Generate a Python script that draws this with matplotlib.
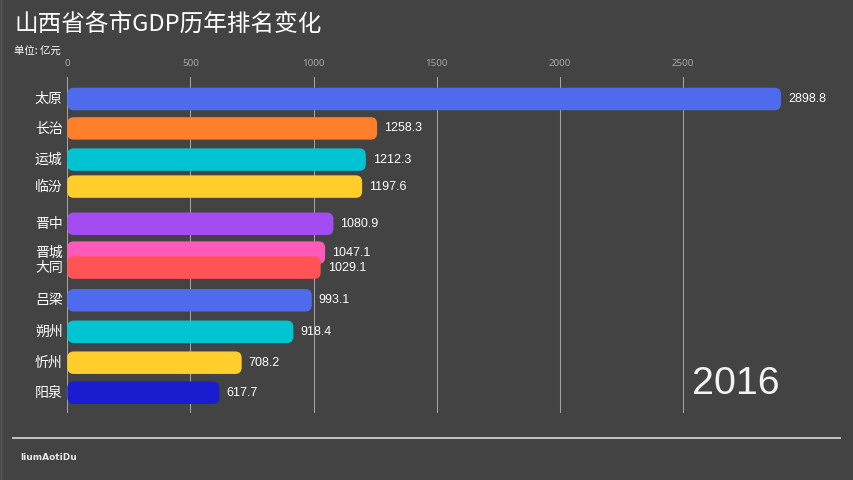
import matplotlib
matplotlib.use("Agg")
import matplotlib.pyplot as plt
from matplotlib.patches import FancyBboxPatch

# ---- data ----
cities = ["太原", "长治", "运城", "临汾", "晋中", "晋城", "大同", "吕梁", "朔州", "忻州", "阳泉"]
values = [2898.8, 1258.3, 1212.3, 1197.6, 1080.9, 1047.1, 1029.1, 993.1, 918.4, 708.2, 617.7]
# animated (fractional) rank positions
rank_pos = [0.0, 0.98, 2.02, 2.92, 4.16, 5.12, 5.62, 6.71, 7.76, 8.79, 9.79]
colors = ["#4f6bed", "#ff7f2a", "#00c4d1", "#ffcd2c", "#a24cf2", "#ff5ab9",
          "#ff5355", "#4f6bed", "#00c4d1", "#ffcd2c", "#1a1ccf"]
xticks = [0, 500, 1000, 1500, 2000, 2500]
year = "2016"
title = "山西省各市GDP历年排名变化"
subtitle = "单位: 亿元"
credit = "liumAotiDu"

BG = "#434343"
CJK = ["Noto Sans CJK SC", "DejaVu Sans"]
plt.rcParams["font.family"] = CJK

W, H = 854, 480
fig = plt.figure(figsize=(W / 100, H / 100), dpi=100, facecolor=BG)

ax_left, ax_right = 67.3, 840.0
ax_top, ax_bottom = 76.7, 413.0
ax = fig.add_axes([ax_left / W, 1 - ax_bottom / H, (ax_right - ax_left) / W, (ax_bottom - ax_top) / H])
ax.set_facecolor(BG)

xmax = (ax_right - ax_left) / 0.2462
ymin_r = (ax_top - 99) / 30.0
ymax_r = (ax_bottom - 99) / 30.0
ax.set_xlim(0, xmax)
ax.set_ylim(ymax_r, ymin_r)

for s in ax.spines.values():
    s.set_visible(False)
ax.xaxis.tick_top()
ax.set_xticks(xticks)
ax.set_xticklabels([str(t) for t in xticks], family=["Noto Sans", "DejaVu Sans"], fontsize=7, color="#a8a8a8")
ax.tick_params(axis="x", length=0, pad=6)
ax.set_yticks([])
ax.grid(axis="x", color="#a4a4a4", linewidth=0.75)
ax.set_axisbelow(True)

# pixel scales for rounded corners
sx = (ax_right - ax_left) / xmax          # px per x unit
sy = (ax_bottom - ax_top) / (ymax_r - ymin_r)  # px per y unit
bar_h = 22.5 / sy
r_px = 6.5

for c, v, p, col in zip(cities, values, rank_pos, colors):
    patch = FancyBboxPatch((0, p - bar_h / 2), v, bar_h,
                           boxstyle=f"round,pad=0,rounding_size={r_px / sx}",
                           mutation_aspect=sx / sy,
                           facecolor=col, edgecolor="none", zorder=3)
    ax.add_patch(patch)
    ax.text(-4.6 / sx, p, c, ha="right", va="center", fontsize=10, color="white",
            family=CJK, zorder=4)
    ax.text(v + 7 / sx, p, f"{v:.1f}", ha="left", va="center", fontsize=9,
            color="white", family=["Liberation Sans", "DejaVu Sans"], zorder=4)

fig.text(779.5 / W, 1 - 393.5 / H, year, ha="right", va="baseline", fontsize=28.4,
         color="#f2f2f2", family=["Liberation Sans", "DejaVu Sans"])

fig.text(14 / W, 1 - 24 / H, title, ha="left", va="center", fontsize=17, color="white", family=CJK)
fig.text(14 / W, 1 - 51.5 / H, subtitle, ha="left", va="center", fontsize=7.5, color="white", family=CJK)

fig.add_artist(plt.Line2D([13 / W, 840 / W], [1 - 437.5 / H, 1 - 437.5 / H],
                          transform=fig.transFigure, color="#d0d0d0", linewidth=1.3))
fig.add_artist(plt.Line2D([0.5 / W, 0.5 / W], [0, 1],
                          transform=fig.transFigure, color="#5a5a5a", linewidth=1.0))
fig.text(20 / W, 1 - 458 / H, credit, ha="left", va="center", fontsize=6.5,
         color="#e8e8e8", fontweight="bold", family=["DejaVu Sans"])

fig.savefig("out.png", dpi=100, facecolor=BG)
